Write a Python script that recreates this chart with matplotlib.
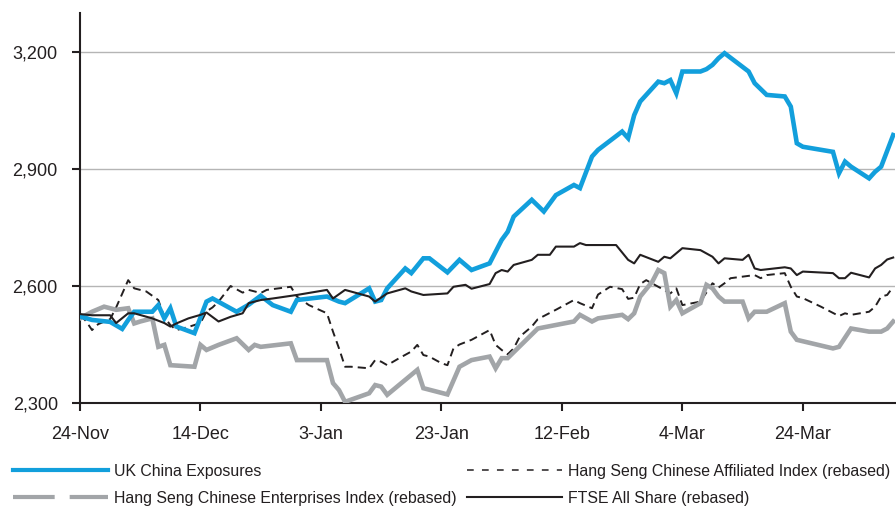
import pandas as pd
import matplotlib.pyplot as plt
from matplotlib.lines import Line2D

plt.rcParams['font.family'] = ['Liberation Sans', 'DejaVu Sans']

start = pd.Timestamp('2008-11-24')

# days after 24-Nov, index level
uk_days = [0, 2, 5, 7, 8, 9, 12, 13, 14, 15, 16, 19, 21, 22, 26, 28, 30, 32, 35, 36,
           41, 43, 44, 48, 49, 50, 51, 54, 55, 57, 58, 61, 63, 65, 68, 70, 71, 72, 75, 77,
           79, 82, 83, 85, 86, 90, 91, 92, 93, 96, 97, 98, 99, 100, 103, 104, 105, 106, 107, 111,
           112, 114, 117, 118, 119, 120, 125, 126, 127, 128, 131, 132, 133, 135]
uk_vals = [2522, 2513, 2508, 2490, 2513, 2534, 2534, 2551, 2517, 2543, 2496, 2479, 2560, 2568, 2534, 2552, 2575, 2551, 2534, 2564,
           2573, 2560, 2556, 2594, 2560, 2564, 2594, 2645, 2633, 2671, 2671, 2635, 2667, 2641, 2658, 2718, 2739, 2778, 2821, 2791,
           2833, 2859, 2851, 2932, 2949, 2996, 2979, 3038, 3073, 3124, 3120, 3128, 3094, 3150, 3150, 3156, 3167, 3184, 3197, 3150,
           3120, 3090, 3086, 3060, 2966, 2957, 2944, 2889, 2919, 2906, 2876, 2893, 2906, 2987]

hsaff_days = [0, 1, 2, 3, 5, 6, 8, 9, 11, 13, 14, 15, 16, 18, 20, 21, 22, 23, 25, 27,
              28, 30, 31, 35, 36, 38, 41, 42, 43, 44, 45, 48, 49, 50, 51, 53, 55, 56, 57, 58,
              60, 61, 62, 63, 65, 68, 69, 70, 71, 72, 73, 75, 76, 79, 82, 83, 85, 86, 88, 90,
              91, 92, 93, 94, 98, 99, 100, 103, 105, 106, 107, 108, 110, 112, 113, 114, 117, 118, 119, 120,
              123, 126, 127, 128, 131, 132, 133, 134, 135]
hsaff_vals = [2526, 2510, 2487, 2502, 2515, 2545, 2615, 2594, 2586, 2564, 2520, 2500, 2487, 2495, 2505, 2535, 2545, 2560, 2600, 2583,
              2590, 2582, 2590, 2598, 2573, 2551, 2530, 2483, 2440, 2393, 2393, 2389, 2410, 2406, 2397, 2415, 2432, 2449, 2423, 2419,
              2402, 2397, 2440, 2450, 2462, 2487, 2449, 2436, 2425, 2440, 2470, 2496, 2515, 2539, 2564, 2556, 2543, 2578, 2598, 2592,
              2567, 2570, 2605, 2615, 2581, 2594, 2551, 2560, 2607, 2596, 2607, 2620, 2624, 2628, 2620, 2628, 2633, 2598, 2573, 2569,
              2547, 2523, 2530, 2526, 2534, 2547, 2573, 2577, 2598]

hsent_days = [0, 2, 4, 6, 8, 9, 10, 12, 13, 14, 15, 19, 20, 21, 23, 26, 28, 29, 30, 35,
              36, 41, 42, 43, 44, 48, 49, 50, 51, 56, 57, 61, 63, 65, 68, 69, 70, 71, 76, 82,
              83, 85, 86, 90, 91, 92, 93, 95, 96, 97, 98, 99, 100, 103, 104, 105, 106, 107, 110, 111,
              112, 114, 117, 118, 119, 125, 126, 128, 131, 133, 134, 135]
hsent_vals = [2517, 2534, 2547, 2539, 2543, 2504, 2509, 2517, 2444, 2449, 2397, 2393, 2449, 2436, 2449, 2466, 2436, 2449, 2444, 2453,
              2410, 2410, 2351, 2333, 2303, 2325, 2346, 2342, 2321, 2385, 2338, 2322, 2393, 2410, 2419, 2389, 2415, 2415, 2491, 2509,
              2526, 2509, 2517, 2526, 2515, 2530, 2573, 2611, 2641, 2633, 2547, 2564, 2530, 2556, 2603, 2594, 2573, 2560, 2560, 2517,
              2534, 2534, 2556, 2483, 2462, 2440, 2444, 2491, 2483, 2483, 2491, 2509]

ftse_days = [0, 2, 5, 6, 8, 9, 12, 14, 15, 16, 18, 20, 21, 23, 25, 27, 28, 30, 32, 36,
             41, 42, 44, 48, 49, 51, 54, 55, 57, 61, 62, 64, 65, 68, 69, 70, 71, 72, 75, 76,
             78, 79, 82, 83, 84, 89, 91, 92, 93, 96, 97, 98, 100, 103, 105, 106, 107, 110, 111, 112,
             113, 117, 118, 119, 120, 125, 126, 127, 128, 131, 132, 133, 134, 135]
ftse_vals = [2528, 2525, 2525, 2505, 2530, 2530, 2517, 2505, 2496, 2504, 2517, 2526, 2532, 2509, 2521, 2530, 2556, 2564, 2568, 2577,
             2590, 2568, 2590, 2573, 2560, 2581, 2594, 2586, 2577, 2581, 2598, 2603, 2593, 2605, 2633, 2641, 2637, 2654, 2667, 2680,
             2680, 2701, 2701, 2710, 2705, 2705, 2667, 2658, 2680, 2662, 2675, 2671, 2697, 2692, 2675, 2658, 2671, 2667, 2680, 2645,
             2641, 2648, 2645, 2628, 2637, 2633, 2620, 2620, 2634, 2622, 2645, 2654, 2668, 2673]

labels = ['UK China Exposures',
          'Hang Seng Chinese Enterprises Index (rebased)',
          'Hang Seng Chinese Affiliated Index (rebased)',
          'FTSE All Share (rebased)']

blue = '#129fdc'
grey = '#a2a5a8'
dark = '#231f20'


def to_dates(days):
    return start + pd.to_timedelta(days, unit='D')


fig = plt.figure(figsize=(8.96, 5.11), dpi=100)
ax = fig.add_axes([80 / 896, 1 - 403 / 511, 815 / 896, 390 / 511])

ax.plot(to_dates(hsaff_days), hsaff_vals, color=dark, lw=1.4, dashes=(4.2, 2.6), zorder=2)
ax.plot(to_dates(hsent_days), hsent_vals, color=grey, lw=3.3, zorder=3, solid_joinstyle='miter')
ax.plot(to_dates(uk_days), uk_vals, color=blue, lw=3.3, zorder=4, solid_joinstyle='miter')
ax.plot(to_dates(ftse_days), ftse_vals, color=dark, lw=1.5, zorder=5)

ax.set_ylim(2300, 3300)
ax.set_xlim(start, start + pd.Timedelta(days=135.3))
ax.set_yticks([2300, 2600, 2900, 3200])
ax.set_yticklabels([f'{v:,}' for v in [2300, 2600, 2900, 3200]])
xt = [start + pd.Timedelta(days=20 * k) for k in range(7)]
ax.set_xticks(xt)
ax.set_xticklabels([f"{d.day}-{d.strftime('%b')}" for d in xt])

for v in [2600, 2900, 3200]:
    ax.axhline(v, color='#b5b5b5', lw=1, zorder=1)

for s in ['top', 'right']:
    ax.spines[s].set_visible(False)
for s in ['left', 'bottom']:
    ax.spines[s].set_linewidth(1.5)
    ax.spines[s].set_color(dark)
ax.tick_params(axis='y', direction='out', length=6, width=1.5, color=dark,
               labelsize=13, labelcolor=dark, pad=10)
ax.tick_params(axis='x', direction='out', length=5.5, width=1.5, color=dark,
               labelsize=13, labelcolor=dark, pad=11)

handles = [Line2D([], [], color=blue, lw=3),
           Line2D([], [], color=grey, lw=3, dashes=(10, 3.6)),
           Line2D([], [], color=dark, lw=1.1, dashes=(4.4, 5.4)),
           Line2D([], [], color=dark, lw=1.5)]
fig.legend(handles, labels, ncol=2, loc='upper left', bbox_to_anchor=(13 / 896, 1 - 464 / 511),
           frameon=False, fontsize=11.4, handlelength=6.0, handletextpad=0.35,
           columnspacing=0.7, labelspacing=0.75, borderpad=0, borderaxespad=0,
           labelcolor=dark)

fig.savefig('out.png', dpi=100)
